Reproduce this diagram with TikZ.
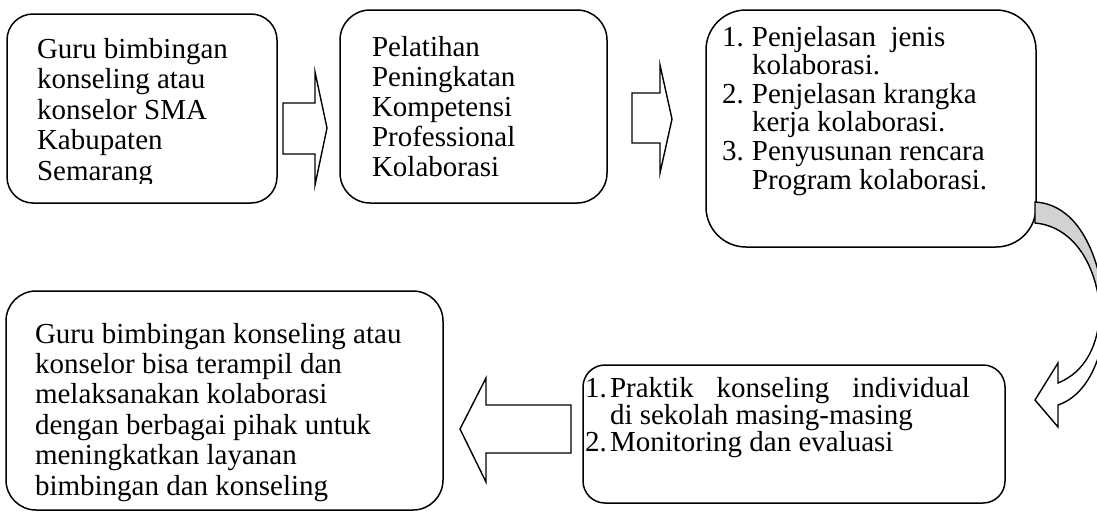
\documentclass[tikz,border=0pt]{standalone}
\usepackage{fontspec}
\setmainfont{Liberation Serif}
\definecolor{shade}{RGB}{210,210,210}
\newcommand\numitem[3]{\makebox[#1][l]{#2}#3}
\begin{document}
\begin{tikzpicture}[x=1pt,y=-1pt,
  box/.style={draw, line width=1.5pt, inner sep=0pt, outer sep=0pt, anchor=north west},
  txt/.style={inner sep=0pt, outer sep=0pt, anchor=base west},
  barrow/.style={draw, line width=1.4pt, fill=white, line join=miter},
  curv/.style={draw, line width=1.4pt, line join=miter},
]
\useasboundingbox (0,0) rectangle (1097,512);
% boxes
\node[box, rounded corners=26pt, minimum width=270pt, minimum height=189pt] (b1) at (7,14) {};
\node[box, rounded corners=30pt, minimum width=267pt, minimum height=193pt] (b2) at (340,10) {};
\node[box, rounded corners=40pt, minimum width=330pt, minimum height=237pt] (b3) at (706,10) {};
\node[box, rounded corners=22pt, minimum width=422pt, minimum height=138pt] (b4) at (583,365) {};
\node[box, rounded corners=30pt, minimum width=437pt, minimum height=219pt] (b5) at (6,291) {};
% texts
\begin{scope}
\clip (7,14) rectangle (277,183);
\node[txt] (t1) at (37,58) {\parbox[t]{235pt}{\fontsize{29}{30.5}\selectfont
Guru bimbingan\\konseling atau\\konselor SMA\\Kabupaten\\Semarang}};
\end{scope}
\node[txt] (t2) at (372,56) {\parbox[t]{230pt}{\fontsize{29}{30}\selectfont
Pelatihan\\Peningkatan\\Kompetensi\\Professional\\Kolaborasi}};
\node[txt] (t3) at (722,46) {\parbox[t]{310pt}{\fontsize{29}{28.6}\selectfont
\numitem{30pt}{1.}{Penjelasan\ \ jenis}\\
\numitem{30pt}{}{kolaborasi.}\\
\numitem{30pt}{2.}{Penjelasan krangka}\\
\numitem{30pt}{}{kerja kolaborasi.}\\
\numitem{30pt}{3.}{Penyusunan rencara}\\
\numitem{30pt}{}{Program kolaborasi.}}};
\node[txt] (t4) at (585,397) {\parbox[t]{400pt}{\fontsize{29}{27}\selectfont
\numitem{25pt}{1.}{\makebox[360pt][s]{Praktik konseling individual}}\\
\numitem{25pt}{}{di sekolah masing-masing}\\
\numitem{25pt}{2.}{Monitoring dan evaluasi}}};
\node[txt] (t5) at (35,343) {\parbox[t]{410pt}{\fontsize{29}{30.4}\selectfont
Guru bimbingan konseling atau\\konselor bisa terampil dan\\melaksanakan kolaborasi\\dengan berbagai pihak untuk\\meningkatkan layanan\\bimbingan dan konseling}};
% block arrows
\draw[barrow] (283,103) -- (315,103) -- (315,72) -- (327,128) -- (315,185) -- (315,154) -- (283,154) -- cycle;
\draw[barrow] (632,93) -- (660,93) -- (660,65) -- (672,119) -- (660,173) -- (660,143) -- (632,143) -- cycle;
\draw[barrow] (571,405) -- (486,405) -- (486,378) -- (460,429) -- (486,482) -- (486,453) -- (571,453) -- cycle;
% curved arrow
\begin{scope}
\clip (0,0) rectangle (1097,512);
\draw[curv, fill=shade] (1035,202) .. controls (1072,204) and (1096,242) .. (1104,300)
   -- (1099,300) .. controls (1092,255) and (1068,226) .. (1035,223) -- cycle;
\draw[curv, fill=white] (1100,305) .. controls (1100,345) and (1085,372) .. (1058,383)
   -- (1058,363) -- (1035,400) -- (1058,427) -- (1058,405)
   .. controls (1088,395) and (1106,355) .. (1106,305) -- cycle;
\end{scope}
\end{tikzpicture}
\end{document}
